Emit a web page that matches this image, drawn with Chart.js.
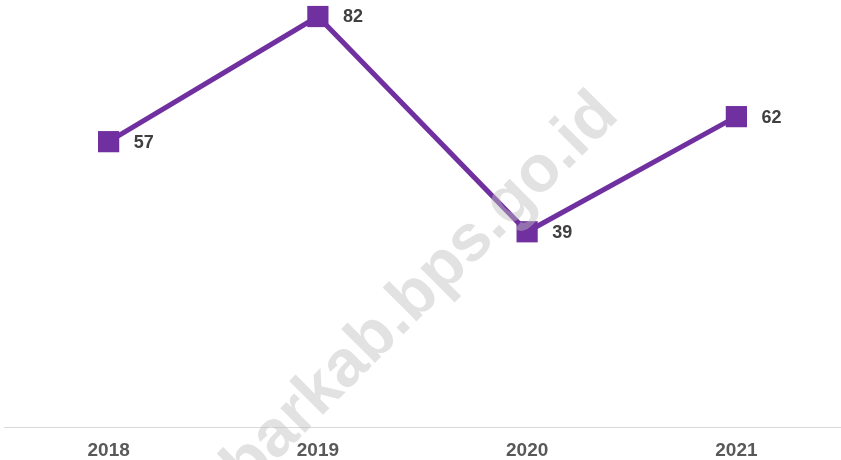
<!DOCTYPE html>
<html>
<head>
<meta charset="utf-8">
<script src="https://cdn.jsdelivr.net/npm/chart.js@4/dist/chart.umd.min.js"></script>
<style>
  html, body { margin: 0; padding: 0; background: #fff; }
  #wrap { width: 841px; height: 460px; }
</style>
</head>
<body>
<div id="wrap"><canvas id="chart"></canvas></div>
<script>
var years  = ['2018', '2019', '2020', '2021'];
var values = [57, 82, 39, 62];
var watermark = 'barkab.bps.go.id';

// value labels to the right of each marker
var valueLabels = {
	id: 'valueLabels',
	afterDatasetsDraw: function(chart) {
		var ctx = chart.ctx;
		var meta = chart.getDatasetMeta(0);
		ctx.save();
		ctx.font = 'bold 18px "Liberation Sans", Arial, sans-serif';
		ctx.fillStyle = '#404040';
		ctx.textAlign = 'left';
		ctx.textBaseline = 'middle';
		meta.data.forEach(function(pt, i) {
			ctx.fillText(values[i], pt.x + 25, pt.y + 1);
		});
		ctx.restore();
	}
};

var watermarkPlugin = {
	id: 'watermark',
	afterDraw: function(chart) {
		var ctx = chart.ctx;
		ctx.save();
		ctx.translate(421, 291);
		ctx.rotate(-Math.PI / 4);
		ctx.font = 'bold 66px "Liberation Sans", Arial, sans-serif';
		ctx.fillStyle = 'rgba(190,190,190,0.45)';
		ctx.textAlign = 'center';
		ctx.textBaseline = 'middle';
		ctx.fillText(watermark, 0, 0);
		ctx.restore();
	}
};

new Chart(document.getElementById('chart'), {
	type: 'line',
	data: {
		labels: years,
		datasets: [{
			data: values,
			borderColor: '#7030A0',
			backgroundColor: '#7030A0',
			borderWidth: 5,
			pointStyle: 'rect',
			pointRadius: 15,
			pointBorderWidth: 0,
			pointBackgroundColor: '#7030A0',
			tension: 0,
			clip: false
		}]
	},
	options: {
		responsive: true,
		maintainAspectRatio: false,
		animation: false,
		layout: {autoPadding: false, padding: {left: 4, right: 0, top: 0, bottom: 0}},
		plugins: {legend: {display: false}, tooltip: {enabled: false}},
		scales: {
			x: {
				offset: true,
				grid: {display: false},
				border: {display: true, color: '#d9d9d9', width: 1},
				ticks: {
					color: '#595959',
					padding: 4,
					font: {family: '"Liberation Sans", Arial, sans-serif', size: 19, weight: 'bold'}
				},
				afterFit: function(scale) { scale.height = 33; }
			},
			y: {
				display: false,
				min: 0,
				max: 85.3
			}
		}
	},
	plugins: [valueLabels, watermarkPlugin]
});
</script>
</body>
</html>
